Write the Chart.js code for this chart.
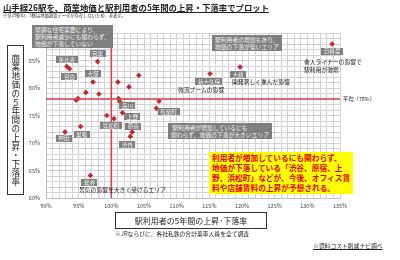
<!DOCTYPE html>
<html>
<head>
<meta charset="utf-8">
<script src="https://cdn.jsdelivr.net/npm/chart.js@4/dist/chart.umd.min.js"></script>
<style>
  html, body { margin: 0; padding: 0; background: #fff; }
  body { width: 400px; height: 260px; position: relative; overflow: hidden;
         font-family: "Noto Sans CJK JP", sans-serif; color: #222; }
  #chart { position: absolute; left: 0; top: 0; }
  .abs { position: absolute; white-space: nowrap; line-height: 1; }
  .title { left: 3px; top: 3px; font-size: 8.4px; font-weight: bold; text-decoration: underline; }
  .sub { left: 3px; top: 13px; font-size: 4.3px; color: #333; }
  .note { font-size: 5.8px; color: #222; }
  .gbox { background: #7f7f7f; color: #f4f4f4; font-size: 5.8px; line-height: 7px; padding: 1px 3px; }
  .ybox { background: #ffff00; color: #e60000; font-weight: bold; font-size: 7.7px;
          line-height: 10px; padding: 1px 3px; }
  .ytitle { left: 7px; top: 45px; width: 15px; height: 148px; border: 1px solid #333;
            writing-mode: vertical-rl; text-orientation: upright; font-size: 8.6px;
            display: flex; align-items: center; justify-content: center; letter-spacing: 0.2px; }
  .xtitle { left: 115px; top: 212px; width: 150px; height: 15px; border: 1px solid #333;
            font-size: 8px; display: flex; align-items: center; justify-content: center; }
</style>
</head>
<body>
<canvas id="chart" width="400" height="260"></canvas>

<div class="abs title">山手線26駅を、商業地価と駅利用者の5年間の上昇・下落率でプロット</div>
<div class="abs sub">※全29駅中、3駅は地価調査データが存在しないため、非表示。</div>

<div class="abs ytitle">商業地価の5年間の上昇・下落率</div>
<div class="abs xtitle">駅利用者の5年間の上昇･下落率</div>
<div class="abs note" style="left:115px; top:231px;">※JRならびに、各社私鉄の合計乗車人員を全て調査</div>
<div class="abs note" style="left:313px; top:243px; text-decoration:underline;">※資料コスト削減ナビ調べ</div>

<div class="abs gbox" style="left:32px; top:25px;">堅調な住宅需要により、<br>駅利用者減少にも関わらず、<br>地価が下落していない</div>
<div class="abs gbox" style="left:212px; top:35px;">駅利用者の増加もあり、<br>地価の下落が低いエリア</div>
<div class="abs gbox" style="left:168px; top:123px;">&nbsp;駅利用者が増加しているにも<br>関わらず、地価の下落が大きいエリア</div>
<div class="abs ybox" style="left:209px; top:152px;">利用者が増加しているにも関わらず、<br>地価が下落している「渋谷、原宿、上<br>野、浜松町」などが、今後、オフィス賃<br>料や店舗賃料の上昇が予想される。</div>

<div class="abs note" style="left:178px; top:87px;">韓流ブームの影響</div>
<div class="abs note" style="left:232px; top:79px;">開発著しく進んだ影響</div>
<div class="abs note" style="left:304px; top:58px; line-height:7.5px;">舎人ライナーの影響で<br>駅利用が激増</div>
<div class="abs note" style="left:79px; top:187px;">景気の影響を大きく受けるエリア</div>
<div class="abs note" style="left:343px; top:97px; font-size:5.3px;">平均（78%）</div>

<script>
// 駅名（空文字はラベルなし）
var stations = ["目黒", "恵比寿", "目白", "大塚", "", "", "", "", "", "", "",
  "品川", "", "上野", "", "浜松町", "原宿", "渋谷", "神田", "巣鴨", "鶯谷",
  "新大久保", "大崎", "", "有楽町", "日暮里"];
// 駅利用者の5年間の上昇・下落率 (%)
var userChange = [97.9, 93.2, 93.6, 97.2, 96.1, 98.1, 94.6, 94.9, 101.0, 102.7, 104.2,
  101.1, 101.3, 101.7, 99.3, 100.4, 103.2, 102.9, 92.9, 95.3, 96.8,
  115.1, 119.7, 107.3, 106.9, 133.8];
// 商業地価の5年間の上昇・下落率 (%)
var landChange = [84.8, 83.9, 83.5, 81.1, 79.2, 78.9, 77.8, 78.1, 81.1, 80.2, 82.3,
  78.1, 77.5, 75.5, 75.0, 74.4, 72.0, 71.2, 72.0, 73.0, 64.1,
  82.6, 83.8, 77.6, 76.3, 88.0];
var averageLand = 78;
var baseUsers = 100;
var xRange = [90, 135];
var yRange = [60, 90];

// label box offsets from the point (px)
var labelOffsets = {
  "目黒": [0, -8], "恵比寿": [0, -7], "目白": [0, 8], "大塚": [0, -8],
  "品川": [9, 7], "上野": [10, 4], "浜松町": [-3, 7], "原宿": [1, -6],
  "渋谷": [-3, 8], "神田": [-1, 6], "巣鴨": [1, 8], "鶯谷": [-1, 7],
  "新大久保": [-1, 8], "大崎": [-2, 7], "有楽町": [12, 3], "日暮里": [0, 7]
};

var points = userChange.map(function (x, i) { return { x: x, y: landChange[i] }; });

var pointLabels = {
  id: "pointLabels",
  afterDatasetsDraw: function (chart) {
    var ctx = chart.ctx;
    var xs = chart.scales.x, ys = chart.scales.y;
    ctx.save();
    ctx.font = "5.6px 'Noto Sans CJK JP'";
    ctx.textAlign = "center";
    ctx.textBaseline = "middle";
    stations.forEach(function (name, i) {
      if (!name) return;
      var off = labelOffsets[name] || [0, 7];
      var cx = xs.getPixelForValue(userChange[i]) + off[0];
      var cy = ys.getPixelForValue(landChange[i]) + off[1];
      var w = ctx.measureText(name).width + 5;
      ctx.fillStyle = "#7f7f7f";
      ctx.fillRect(Math.round(cx - w / 2), Math.round(cy - 3.5), Math.round(w), 7);
      ctx.fillStyle = "#f2f2f2";
      ctx.fillText(name, cx, cy + 0.3);
    });
    ctx.restore();
  }
};

new Chart(document.getElementById("chart"), {
  type: "scatter",
  data: {
    datasets: [
      {
        type: "line",
        data: [{ x: xRange[0], y: averageLand }, { x: xRange[1], y: averageLand }],
        borderColor: "#d4434b", borderWidth: 1.6, pointRadius: 0
      },
      {
        type: "line",
        data: [{ x: baseUsers, y: yRange[0] }, { x: baseUsers, y: yRange[1] }],
        borderColor: "#d4434b", borderWidth: 1.6, pointRadius: 0
      },
      {
        data: points,
        pointStyle: "rectRot",
        pointRadius: 2.8,
        backgroundColor: "#c8262c",
        borderColor: "#c8262c",
        borderWidth: 0
      }
    ]
  },
  options: {
    responsive: false,
    devicePixelRatio: 1,
    animation: false,
    layout: { padding: { left: 0, right: 60, top: 33, bottom: 48 } },
    plugins: { legend: { display: false }, tooltip: { enabled: false } },
    scales: {
      x: {
        type: "linear", min: xRange[0], max: xRange[1],
        afterFit: function (s) { s.height = 14; },
        grid: { color: "#d3d3d3", lineWidth: 1, drawTicks: false },
        border: { color: "#bfbfbf" },
        ticks: {
          stepSize: 1, autoSkip: false, maxRotation: 0, padding: 5,
          color: "#444", font: { size: 5.5, family: "'Noto Sans CJK JP'" },
          callback: function (v) { return v % 5 === 0 ? v + "%" : ""; }
        }
      },
      y: {
        type: "linear", min: yRange[0], max: yRange[1],
        afterFit: function (s) { s.width = 46; },
        grid: { color: "#d3d3d3", lineWidth: 1, drawTicks: false },
        border: { color: "#bfbfbf" },
        ticks: {
          stepSize: 1, autoSkip: false, padding: 6,
          color: "#444", font: { size: 5.5, family: "'Noto Sans CJK JP'" },
          callback: function (v) { return v % 5 === 0 && v < 90 ? v + "%" : ""; }
        }
      }
    }
  },
  plugins: [pointLabels]
});
</script>
</body>
</html>
